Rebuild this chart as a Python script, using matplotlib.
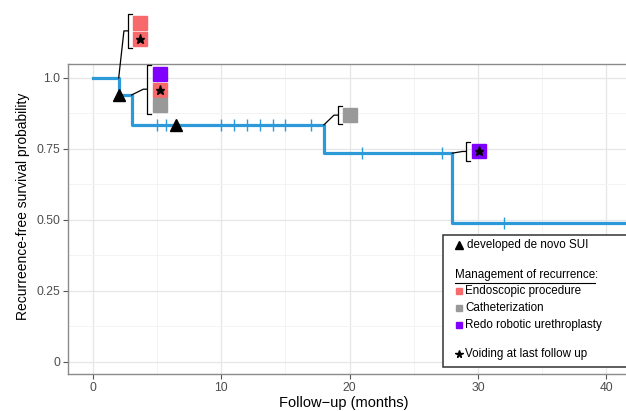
import matplotlib
matplotlib.use("Agg")
import matplotlib.pyplot as plt
from matplotlib.patches import Rectangle
from matplotlib.lines import Line2D

plt.rcParams['font.family'] = ['Liberation Sans', 'DejaVu Sans']

# Kaplan-Meier steps
event_times = [0, 2, 3, 18, 28]
survival = [1.0, 0.94, 0.835, 0.735, 0.49]
censor_times = [5, 5.7, 10, 11, 12, 13, 14, 15, 17, 21, 27.2, 32]
sui_times = [2, 6.5]

# management of recurrence at each drop (label anchor x, list of (y, kind, voiding))
groups = [
    (2, 3.69, [(1.195, 'endo', False), (1.137, 'endo', True)]),
    (3, 5.2, [(1.015, 'redo', False), (0.959, 'endo', True), (0.906, 'cath', False)]),
    (18, 20.06, [(0.869, 'cath', False)]),
    (28, 30.08, [(0.741, 'redo', True)]),
]

colors = {'endo': '#F8696B', 'cath': '#999999', 'redo': '#7F00FF'}
line_col = '#2C9AD8'


def surv_at(t):
    s = 1.0
    for tt, v in zip(event_times, survival):
        if tt <= t:
            s = v
    return s


fig = plt.figure(figsize=(6.26, 4.11), dpi=100)
ax = fig.add_axes([68 / 626, 37 / 411, 572 / 626, 310 / 411])
ax.set_xlim(-1.95, 42.63)
ax.set_ylim(-0.0434, 1.0493)

ax.set_xticks([0, 10, 20, 30, 40])
ax.set_xticks([5, 15, 25, 35], minor=True)
ax.set_yticks([0, 0.25, 0.5, 0.75, 1.0])
ax.set_yticklabels(['0', '0.25', '0.50', '0.75', '1.0'])
ax.set_yticks([0.125, 0.375, 0.625, 0.875], minor=True)
ax.grid(True, which='major', color='#E6E6E6', linewidth=0.9)
ax.grid(True, which='minor', color='#F3F3F3', linewidth=0.7)
ax.set_axisbelow(True)
ax.tick_params(which='major', length=3.5, width=0.8, color='#555555',
               labelsize=8.7, labelcolor='#4D4D4D', pad=2)
ax.tick_params(which='minor', length=0)
for side in ['left', 'bottom', 'top']:
    ax.spines[side].set_color('#8A8A8A')
    ax.spines[side].set_linewidth(1.0)
ax.spines['right'].set_visible(False)

ax.set_xlabel('Follow\u2212up (months)', fontsize=10.5, va='center')
ax.xaxis.set_label_coords(0.4825, -0.0935)
ax.set_ylabel('Recurreence-free survival probability', fontsize=10, va='center')
ax.yaxis.set_label_coords(-0.079, 0.542)

# curve
ax.step(event_times + [45], survival + [survival[-1]], where='post',
        color=line_col, linewidth=2.3, zorder=3, clip_on=False)
ax.plot(censor_times, [surv_at(t) for t in censor_times], linestyle='none',
        marker='|', markersize=8.5, markeredgewidth=1.0, color=line_col, zorder=3)
ax.plot(sui_times, [surv_at(t) for t in sui_times], linestyle='none',
        marker='^', markersize=8.5, color='black', zorder=5)

# brackets with recurrence management boxes
for t, sx, items in groups:
    y0 = surv_at(t - 0.01)
    ys = [it[0] for it in items]
    top = max(ys) + 0.032
    bot = min(ys) - 0.032
    mid = (top + bot) / 2
    bx = sx - 0.98
    ax.plot([t, bx - 0.3, bx], [y0, mid, mid], color='black', lw=0.9,
            clip_on=False, zorder=4)
    ax.plot([bx + 0.3, bx, bx, bx + 0.3], [top, top, bot, bot], color='black',
            lw=0.9, clip_on=False, zorder=4)
    for y, kind, voiding in items:
        ax.plot(sx, y, marker='s', markersize=9.6, color=colors[kind],
                linestyle='none', clip_on=False, zorder=6)
        if voiding:
            ax.plot(sx, y, marker='*', markersize=6.5, color='black',
                    linestyle='none', clip_on=False, zorder=7)

# legend box (figure pixel coordinates)
W, H = 626.0, 411.0


def fx(px):
    return px / W


def fy(py):
    return 1 - py / H


fig.add_artist(Rectangle((fx(443), fy(367)), fx(700) - fx(443), fy(235) - fy(367),
                         transform=fig.transFigure, facecolor='white',
                         edgecolor='#333333', linewidth=1.1, zorder=10))
fs = 8.4
fig.add_artist(Line2D([fx(458.5)], [fy(245)], marker='^', markersize=5.5,
                      color='black', transform=fig.transFigure, zorder=11))
fig.text(fx(467), fy(245), 'developed de novo SUI', fontsize=fs, va='center', zorder=11)
mt = fig.text(fx(455), fy(275), 'Management of recurrence', fontsize=fs,
              va='center', zorder=11)
fig.canvas.draw()
bb = mt.get_window_extent()
fig.text(bb.x1 / W, fy(275), ':', fontsize=fs, va='center', zorder=11)
fig.add_artist(Line2D([bb.x0 / W, bb.x1 / W], [fy(282.5), fy(282.5)],
                      color='black', lw=0.8, transform=fig.transFigure, zorder=11))
legend_rows = [('Endoscopic procedure', 'endo', 291),
               ('Catheterization', 'cath', 308),
               ('Redo robotic urethroplasty', 'redo', 325)]
for label, kind, py in legend_rows:
    fig.add_artist(Line2D([fx(459)], [fy(py)], marker='s', markersize=5,
                          color=colors[kind], transform=fig.transFigure, zorder=11))
    fig.text(fx(465), fy(py), label, fontsize=fs, va='center', zorder=11)
fig.add_artist(Line2D([fx(459)], [fy(354)], marker='*', markersize=5.5,
                      color='black', transform=fig.transFigure, zorder=11))
fig.text(fx(465), fy(354), 'Voiding at last follow up', fontsize=fs,
         va='center', zorder=11)

fig.savefig('out.png', dpi=100)
